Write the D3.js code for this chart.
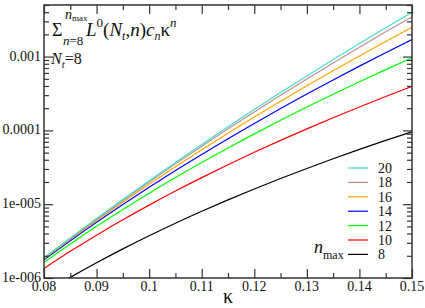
<!DOCTYPE html>
<html>
<head>
<meta charset="utf-8">
<script src="https://cdn.jsdelivr.net/npm/d3@7"></script>
<style>
  body { margin: 0; background: #fff; }
  .curve { fill: none; stroke-width: 1.2px; }
</style>
</head>
<body>
<svg id="chart" width="425" height="308"></svg>
<script>
'use strict';

// ========== data

const kappa = [0.08, 0.085, 0.09, 0.095, 0.10, 0.105, 0.11, 0.115, 0.12, 0.125, 0.13, 0.135, 0.14, 0.145, 0.15];

const nmax8 = [6.28e-7, 1.02e-6, 1.61e-6, 2.48e-6, 3.74e-6, 5.53e-6, 8.02e-6, 1.144e-5, 1.609e-5, 2.23e-5, 3.05e-5, 4.13e-5, 5.52e-5, 7.31e-5, 9.59e-5];
const nmax10 = [1.349e-6, 2.297e-6, 3.805e-6, 6.148e-6, 9.72e-6, 1.506e-5, 2.290e-5, 3.425e-5, 5.044e-5, 7.32e-5, 1.049e-4, 1.484e-4, 2.077e-4, 2.875e-4, 3.941e-4];
const nmax12 = [1.629e-6, 2.893e-6, 5.012e-6, 8.488e-6, 1.409e-5, 2.293e-5, 3.670e-5, 5.777e-5, 8.966e-5, 1.372e-4, 2.071e-4, 3.091e-4, 4.560e-4, 6.656e-4, 9.621e-4];
const nmax14 = [1.766e-6, 3.203e-6, 5.689e-6, 9.908e-6, 1.696e-5, 2.854e-5, 4.727e-5, 7.72e-5, 1.243e-4, 1.978e-4, 3.107e-4, 4.827e-4, 7.42e-4, 1.128e-3, 1.700e-3];
const nmax16 = [1.820e-6, 3.339e-6, 6.019e-6, 1.068e-5, 1.866e-5, 3.214e-5, 5.459e-5, 9.153e-5, 1.515e-4, 2.481e-4, 4.014e-4, 6.428e-4, 1.019e-3, 1.601e-3, 2.491e-3];
const nmax18 = [1.849e-6, 3.421e-6, 6.243e-6, 1.125e-5, 2.002e-5, 3.518e-5, 6.109e-5, 1.049e-4, 1.781e-4, 2.993e-4, 4.979e-4, 8.197e-4, 1.338e-3, 2.164e-3, 3.468e-3];
const nmax20 = [1.879e-6, 3.489e-6, 6.403e-6, 1.161e-5, 2.080e-5, 3.685e-5, 6.453e-5, 1.118e-4, 1.918e-4, 3.253e-4, 5.466e-4, 9.10e-4, 1.501e-3, 2.454e-3, 3.977e-3];

// legend order, top to bottom
const seriesNames = ['20', '18', '16', '14', '12', '10', '8'];
const seriesValues = [nmax20, nmax18, nmax16, nmax14, nmax12, nmax10, nmax8];
const seriesColors = ['#40e0d0', '#bc8f8f', '#ffa500', '#0000ff', '#00ff00', '#ff0000', '#000000'];

const xTicks = [0.08, 0.09, 0.1, 0.11, 0.12, 0.13, 0.14, 0.15];
const xTickLabels = ['0.08', '0.09', '0.1', '0.11', '0.12', '0.13', '0.14', '0.15'];
const yTicks = [1e-6, 1e-5, 1e-4, 1e-3];
const yTickLabels = ['1e-006', '1e-005', '0.0001', '0.001'];

// ========== layout

const margin = {top: 5, right: 13, bottom: 30, left: 44};
const width = 425, height = 308;
const plotW = width - margin.left - margin.right;
const plotH = height - margin.top - margin.bottom;
const FONT = '"Liberation Serif", "Times New Roman", serif';

const svg = d3.select('#chart');

const x = d3.scaleLinear().domain([0.08, 0.15]).range([0, plotW]);
const y = d3.scaleLog().domain([1e-6, 5e-3]).range([plotH, 0]);

const g = svg.append('g')
  .attr('transform', `translate(${margin.left},${margin.top})`);

g.append('clipPath').attr('id', 'clip')
  .append('rect').attr('width', plotW).attr('height', plotH);

// ========== curves

const line = d3.line()
  .x(function(d) { return x(d[0]); })
  .y(function(d) { return y(d[1]); })
  .curve(d3.curveMonotoneX);

const curves = g.append('g').attr('clip-path', 'url(#clip)');
seriesValues.slice().reverse().forEach(function(vals, i) {
  const idx = seriesValues.length - 1 - i;
  curves.append('path')
    .attr('class', 'curve')
    .attr('stroke', seriesColors[idx])
    .attr('d', line(kappa.map(function(k, j) { return [k, vals[j]]; })));
});

// ========== axes (ticks inward on all four sides)

const major = 9, minor = 5;
const xMinor = d3.range(0.085, 0.15, 0.01);
const yMinor = [];
yTicks.forEach(function(d) {
  for (let k = 2; k <= 9; k++) if (d * k <= 5e-3) yMinor.push(d * k);
});

// bottom
g.append('g').attr('transform', `translate(0,${plotH})`)
  .call(d3.axisTop(x).tickValues(xTicks).tickSize(major).tickFormat(''));
g.append('g').attr('transform', `translate(0,${plotH})`)
  .call(d3.axisTop(x).tickValues(xMinor).tickSize(minor).tickFormat(''));
// top
g.append('g')
  .call(d3.axisBottom(x).tickValues(xTicks).tickSize(major).tickFormat(''));
g.append('g')
  .call(d3.axisBottom(x).tickValues(xMinor).tickSize(minor).tickFormat(''));
// left
g.append('g')
  .call(d3.axisRight(y).tickValues(yTicks).tickSize(major).tickFormat(''));
g.append('g')
  .call(d3.axisRight(y).tickValues(yMinor).tickSize(minor).tickFormat(''));
// right
g.append('g').attr('transform', `translate(${plotW},0)`)
  .call(d3.axisLeft(y).tickValues(yTicks).tickSize(major).tickFormat(''));
g.append('g').attr('transform', `translate(${plotW},0)`)
  .call(d3.axisLeft(y).tickValues(yMinor).tickSize(minor).tickFormat(''));

g.selectAll('.domain').remove();
g.selectAll('.tick text').remove();
g.selectAll('.tick line').attr('stroke', '#333').attr('stroke-width', 1.2);

g.append('rect')
  .attr('width', plotW).attr('height', plotH)
  .attr('fill', 'none').attr('stroke', '#333').attr('stroke-width', 1.5);

// tick labels
g.selectAll('.xlab').data(xTicks).enter().append('text')
  .attr('font-size', 14)
  .attr('x', function(d) { return x(d); })
  .attr('y', plotH + 13)
  .attr('text-anchor', 'middle')
  .text(function(d, i) { return xTickLabels[i]; });

g.selectAll('.ylab').data(yTicks).enter().append('text')
  .attr('font-size', 14)
  .attr('x', -3)
  .attr('y', function(d) { return y(d) + 4; })
  .attr('text-anchor', 'end')
  .text(function(d, i) { return yTickLabels[i]; });

// x title
g.append('text')
  .attr('x', plotW / 2).attr('y', plotH + 25)
  .attr('text-anchor', 'middle')
  .attr('font-size', 20)
  .text('κ');

// ========== formula annotation

const ann = svg.append('g');
ann.append('text').attr('x', 52).attr('y', 36).attr('font-size', 18).text('Σ');
ann.append('text').attr('x', 65).attr('y', 19).attr('font-size', 14)
  .attr('font-style', 'italic').text('n')
  .append('tspan').attr('font-size', 9).attr('font-style', 'normal').attr('dy', 2).text('max');
ann.append('text').attr('x', 63).attr('y', 45).attr('font-size', 13)
  .call(function(t) {
    t.append('tspan').attr('font-style', 'italic').text('n');
    t.append('tspan').text('=8');
  });
const f = ann.append('text').attr('x', 86).attr('y', 36).attr('font-size', 19);
f.append('tspan').attr('font-style', 'italic').text('L');
f.append('tspan').attr('font-size', 13).attr('dy', -9).text('0');
f.append('tspan').attr('dy', 9).text('(');
f.append('tspan').attr('font-style', 'italic').text('N');
f.append('tspan').attr('font-style', 'italic').attr('font-size', 12).attr('dy', 4).text('t');
f.append('tspan').attr('dy', -4).text(',');
f.append('tspan').attr('font-style', 'italic').text('n');
f.append('tspan').text(')');
f.append('tspan').attr('font-style', 'italic').text('c');
f.append('tspan').attr('font-style', 'italic').attr('font-size', 12).attr('dy', 4).text('n');
f.append('tspan').attr('dy', -4).text('κ');
f.append('tspan').attr('font-style', 'italic').attr('font-size', 13).attr('dy', -9).text('n');

const nt = ann.append('text').attr('x', 51).attr('y', 64).attr('font-size', 16);
nt.append('tspan').attr('font-style', 'italic').text('N');
nt.append('tspan').attr('font-style', 'italic').attr('font-size', 11).attr('dy', 4).text('t');
nt.append('tspan').attr('dy', -4).text('=8');

// ========== legend

const legend = svg.append('g').attr('transform', 'translate(348,168)');
seriesNames.forEach(function(name, i) {
  const row = legend.append('g').attr('transform', `translate(0,${i * 14.4})`);
  row.append('line')
    .attr('x1', 0).attr('x2', 20).attr('y1', 0).attr('y2', 0)
    .attr('stroke', seriesColors[i]).attr('stroke-width', 1.2);
  row.append('text')
    .attr('font-size', 14)
    .attr('x', 30).attr('y', 5)
    .text(name);
});
const nl = legend.append('text').attr('x', -34).attr('y', 6 * 14.4 - 1).attr('font-size', 18);
nl.append('tspan').attr('font-style', 'italic').text('n');
nl.append('tspan').attr('font-size', 12).attr('dy', 6).text('max');

// serif everywhere, inline so nothing overrides it
svg.selectAll('text').style('font-family', FONT).attr('fill', '#111');
</script>
</body>
</html>
